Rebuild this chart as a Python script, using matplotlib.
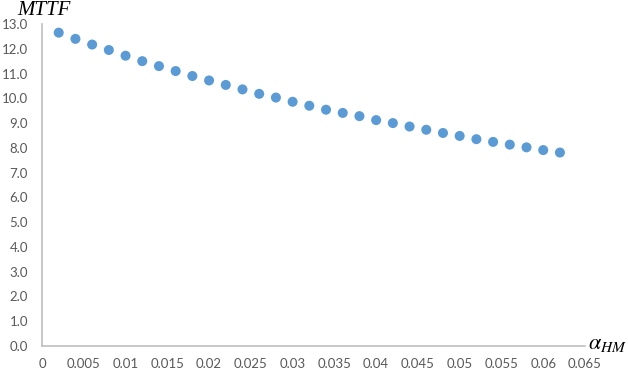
"""MTTF versus alpha_HM scatter chart."""

import matplotlib

matplotlib.use("Agg")
import matplotlib.pyplot as plt

alpha_hm = [
    0.002, 0.004, 0.006, 0.008, 0.010, 0.012, 0.014, 0.016, 0.018, 0.020,
    0.022, 0.024, 0.026, 0.028, 0.030, 0.032, 0.034, 0.036, 0.038, 0.040,
    0.042, 0.044, 0.046, 0.048, 0.050, 0.052, 0.054, 0.056, 0.058, 0.060,
    0.062,
]
mttf = [
    12.65, 12.40, 12.17, 11.95, 11.72, 11.50, 11.30, 11.10, 10.90, 10.72,
    10.54, 10.36, 10.18, 10.03, 9.86, 9.70, 9.54, 9.41, 9.28, 9.12,
    9.00, 8.86, 8.73, 8.60, 8.48, 8.35, 8.24, 8.13, 8.02, 7.91,
    7.81,
]

x_ticks = [0, 0.005, 0.01, 0.015, 0.02, 0.025, 0.03, 0.035, 0.04, 0.045,
           0.05, 0.055, 0.06, 0.065]
x_labels = ["0", "0.005", "0.01", "0.015", "0.02", "0.025", "0.03", "0.035",
            "0.04", "0.045", "0.05", "0.055", "0.06", "0.065"]
y_ticks = [float(v) for v in range(0, 14)]
y_labels = [f"{v:.1f}" for v in y_ticks]

plt.rcParams["mathtext.fontset"] = "stix"

fig = plt.figure(figsize=(6.28, 3.72), dpi=100)
ax = fig.add_axes([0.0669, 0.0699, 0.8646, 0.8656])

ax.scatter(alpha_hm, mttf, s=52, color="#5B9BD5", edgecolors="none", zorder=3)

ax.set_xlim(0, 0.065)
ax.set_ylim(0, 13)
ax.set_xticks(x_ticks)
ax.set_xticklabels(x_labels)
ax.set_yticks(y_ticks)
ax.set_yticklabels(y_labels)

for side in ("top", "right"):
    ax.spines[side].set_visible(False)
for side in ("left", "bottom"):
    ax.spines[side].set_color("#BFBFBF")
    ax.spines[side].set_linewidth(1.2)

ax.tick_params(axis="both", length=0, labelcolor="#595959", labelsize=9.5)
ax.tick_params(axis="y", pad=10)
ax.tick_params(axis="x", pad=9)
for lbl in ax.get_xticklabels() + ax.get_yticklabels():
    lbl.set_fontfamily("Lato")

fig.text(0.028, 0.972, "MTTF", family="Liberation Serif", style="italic",
         fontsize=15, ha="left", va="center", color="#000000")
fig.text(0.937, 0.075, r"$\alpha_{HM}$", fontsize=16, ha="left",
         va="center", color="#000000")

fig.savefig("out.png", dpi=100)
